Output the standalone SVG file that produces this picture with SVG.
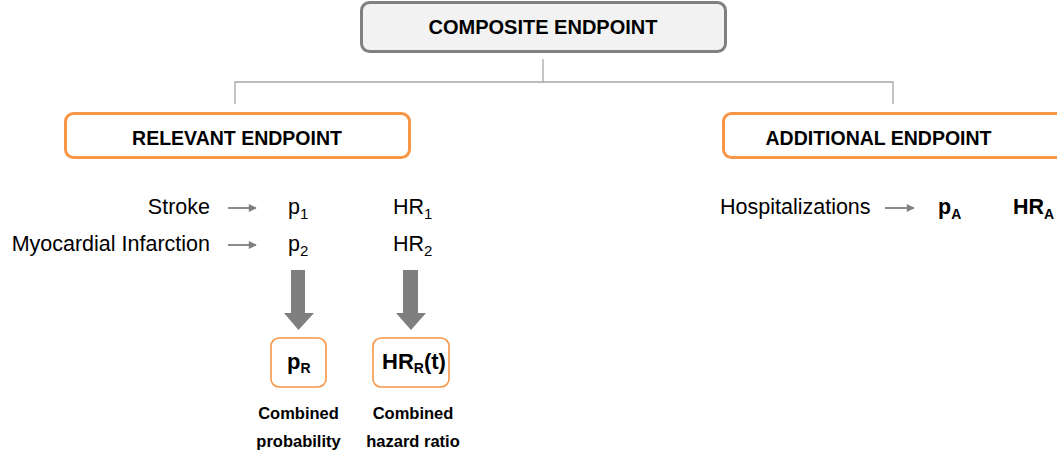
<svg xmlns="http://www.w3.org/2000/svg" width="1057" height="458" viewBox="0 0 1057 458">
<style>
text{font-family:"Liberation Sans",Arial,sans-serif;fill:#000}
.hdr{font-size:19.5px;font-weight:bold;text-anchor:middle}
.reg{font-size:21.5px}
.b{font-weight:bold}
.lab{font-size:16.5px;font-weight:bold;text-anchor:middle}
.ob{fill:#fff;stroke:#f79646;stroke-width:3}
.os{fill:#fff;stroke:#f79646;stroke-width:1.6}
.tree{fill:none;stroke:#a6a6a6;stroke-width:1.3}
.sa{stroke:#7f7f7f;stroke-width:1.8;marker-end:url(#ah)}
.big{fill:#7f7f7f}
</style>
<defs>
<marker id="ah" viewBox="0 0 10 10" refX="9" refY="5" markerWidth="9" markerHeight="8" markerUnits="userSpaceOnUse" orient="auto">
<path d="M0,0L10,5L0,10z" fill="#7f7f7f"/>
</marker>
</defs>
<rect width="1057" height="458" fill="#fff"/>
<g id="connectors">
<path class="tree" d="M543,59V82M235,104V82H893V104"/>
<line class="sa" x1="228" y1="208" x2="256" y2="208"/>
<line class="sa" x1="228" y1="245" x2="256" y2="245"/>
<line class="sa" x1="885" y1="208" x2="914" y2="208"/>
<path class="big" d="M291,270H305V313H314L298.5,330L284,313H291Z"/>
<path class="big" d="M403,270H418V313H426L411,330L396,313H403Z"/>
</g>
<g id="composite">
<rect x="361.5" y="2.5" width="364" height="49" rx="8" fill="#f2f2f2" stroke="#808080" stroke-width="3"/>
<text class="hdr" x="543" y="34" style="font-size:20px">COMPOSITE ENDPOINT</text>
</g>
<g id="relevant">
<rect class="ob" x="65.5" y="113.5" width="344" height="44" rx="8"/>
<text class="hdr" x="237" y="145">RELEVANT ENDPOINT</text>
</g>
<g id="additional">
<rect class="ob" x="723.5" y="113.5" width="345" height="44" rx="8"/>
<text class="hdr" x="878.5" y="145">ADDITIONAL ENDPOINT</text>
</g>
<g id="stroke">
<text class="reg" x="210" y="214" text-anchor="end">Stroke</text>
<text class="reg" x="288" y="214">p<tspan font-size="15" dy="5">1</tspan></text>
<text class="reg" x="393" y="214">HR<tspan font-size="15" dy="5">1</tspan></text>
</g>
<g id="mi">
<text class="reg" x="210" y="251" text-anchor="end">Myocardial Infarction</text>
<text class="reg" x="288" y="251">p<tspan font-size="15" dy="5">2</tspan></text>
<text class="reg" x="393" y="251">HR<tspan font-size="15" dy="5">2</tspan></text>
</g>
<g id="hospitalizations">
<text class="reg" x="720" y="214">Hospitalizations</text>
<text class="reg b" x="938" y="214">p<tspan font-size="14" dy="5">A</tspan></text>
<text class="reg b" x="1013" y="214">HR<tspan font-size="14" dy="5">A</tspan></text>
</g>
<g id="pR">
<rect class="os" x="271" y="338" width="55" height="49" rx="8"/>
<text class="reg b" x="287" y="369" style="font-size:22px">p<tspan font-size="14" dy="4">R</tspan></text>
<text class="lab" x="298.5" y="419">Combined</text>
<text class="lab" x="298.5" y="447">probability</text>
</g>
<g id="hrR">
<rect class="os" x="373" y="338" width="76" height="49" rx="8"/>
<text class="reg b" x="382" y="369" style="font-size:22px">HR<tspan font-size="14" dy="4">R</tspan><tspan dy="-4">(t)</tspan></text>
<text class="lab" x="413" y="419">Combined</text>
<text class="lab" x="413" y="447">hazard ratio</text>
</g>
</svg>
